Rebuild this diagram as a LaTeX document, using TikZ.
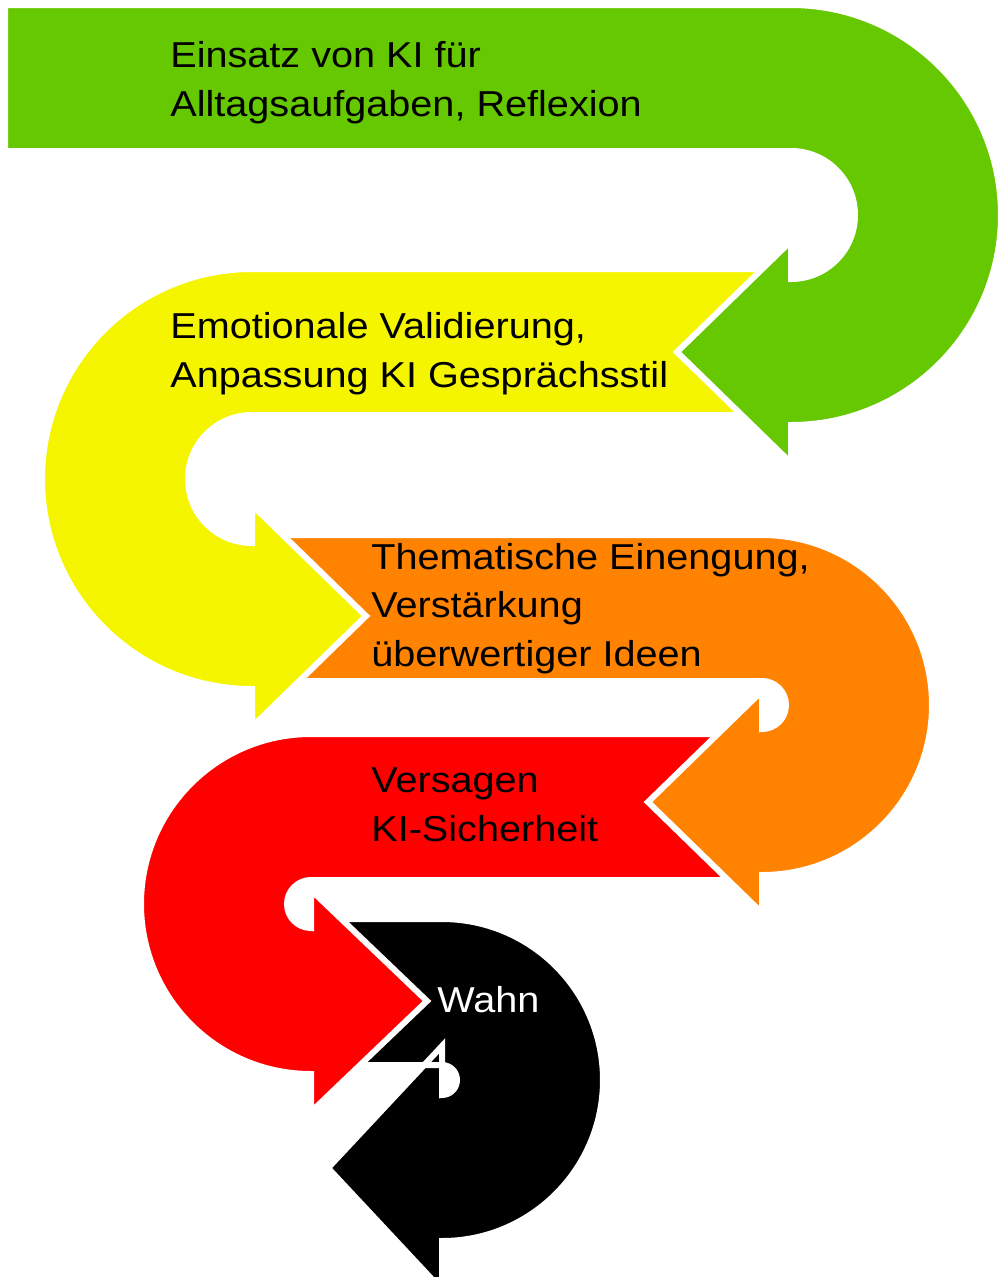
\documentclass[tikz,border=0pt]{standalone}
\usepackage{fontspec}
\setmainfont{Liberation Sans}[FakeStretch=1.1]

\begin{document}
\begin{tikzpicture}[x=0.2mm, y=-0.2mm]
    % Define colours
    \definecolor{greenColour}{HTML}{66C800}
    \definecolor{yellowColour}{HTML}{F5F500}
    \definecolor{orangeColour}{HTML}{FF8200}
    \definecolor{redColour}{HTML}{FE0000}
    \definecolor{blackColour}{HTML}{000000}

    % Styles for the bent arrows and their texts
    \tikzset{
        uturn/.style={draw=white, line width=1.2mm},
        stageText/.style={anchor=base west, inner sep=0pt, align=left,
            font=\fontsize{20.5}{27.6}\selectfont}
    }

    % Fix the canvas
    \useasboundingbox (0,0) rectangle (1004,1277);

    % Draw the black arrow (turns right, points left)
    \filldraw[uturn, fill=blackColour] (316,919) -- (442,919)
        arc[start angle=-90, end angle=90, radius=161] -- (442,1290) -- (328,1168)
        -- (442,1046) -- (442,1095) arc[start angle=90, end angle=-90, radius=15]
        -- (316,1065) -- cycle;

    % Draw the red arrow (turns left, points right)
    \filldraw[uturn, fill=redColour] (757,734) -- (311,734)
        arc[start angle=-90, end angle=-270, radius=170] -- (311,1112) -- (427,1001)
        -- (311,890) -- (311,928) arc[start angle=90, end angle=270, radius=24]
        -- (757,880) -- cycle;

    % Draw the orange arrow (turns right, points left)
    \filldraw[uturn, fill=orangeColour] (256,535) -- (762,535)
        arc[start angle=-90, end angle=90, radius=170] -- (762,913) -- (648,802)
        -- (762,691) -- (762,729) arc[start angle=90, end angle=-90, radius=24]
        -- (256,681) -- cycle;

    % Draw the yellow arrow (turns left, points right)
    \filldraw[uturn, fill=yellowColour] (785,269) -- (252,269)
        arc[start angle=-90, end angle=-270, radius=210] -- (252,727) -- (366,616)
        -- (252,505) -- (252,543) arc[start angle=90, end angle=270, radius=64]
        -- (785,415) -- cycle;

    % Draw the green arrow (turns right, points left)
    \filldraw[uturn, fill=greenColour] (5,5) -- (791,5)
        arc[start angle=-90, end angle=90, radius=210] -- (791,463) -- (677,352)
        -- (791,241) -- (791,279) arc[start angle=90, end angle=-90, radius=64]
        -- (5,151) -- cycle;

    % Label the stages (anchored at the baseline of the last line)
    \node[stageText] (alltag) at (170,116) {Einsatz von KI für\\Alltagsaufgaben, Reflexion};
    \node[stageText] (validierung) at (170,387) {Emotionale Validierung,\\Anpassung KI Gesprächsstil};
    \node[stageText] (einengung) at (371,666) {Thematische Einengung,\\Verstärkung\\überwertiger Ideen};
    \node[stageText] (versagen) at (371,841) {Versagen\\KI-Sicherheit};
    \node[stageText, text=white] (wahn) at (437,1012) {Wahn};

\end{tikzpicture}
\end{document}
